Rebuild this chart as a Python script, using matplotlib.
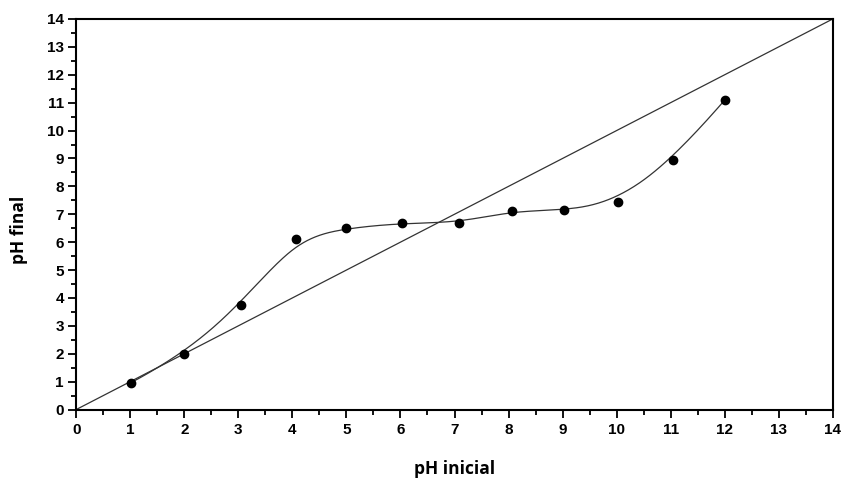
import numpy as np
import matplotlib
matplotlib.use("Agg")
import matplotlib.pyplot as plt
from matplotlib.ticker import MultipleLocator

# Data
ph_inicial = [1.01, 2.0, 3.04, 4.06, 4.99, 6.02, 7.09, 8.07, 9.02, 10.03, 11.04, 12.0]
ph_final = [0.96, 1.98, 3.75, 6.11, 6.50, 6.68, 6.70, 7.12, 7.14, 7.43, 8.95, 11.09]
ref_x = [0, 14]
ref_y = [0, 14]

xticks = list(range(0, 15))
yticks = list(range(0, 15))


def clamped_bspline(px, py, k=3, samples=600):
    P = np.column_stack([px, py])
    n = len(P)
    knots = np.concatenate([np.zeros(k), np.arange(n - k + 1), np.full(k, n - k)]).astype(float)
    t = np.linspace(0, n - k, samples)
    t[-1] -= 1e-9
    B = np.zeros((samples, len(knots) - 1))
    for i in range(len(knots) - 1):
        B[:, i] = (t >= knots[i]) & (t < knots[i + 1])
    for d in range(1, k + 1):
        Bn = np.zeros((samples, len(knots) - 1 - d))
        for i in range(len(knots) - 1 - d):
            den1 = knots[i + d] - knots[i]
            den2 = knots[i + d + 1] - knots[i + 1]
            a = (t - knots[i]) / den1 * B[:, i] if den1 > 0 else 0
            b = (knots[i + d + 1] - t) / den2 * B[:, i + 1] if den2 > 0 else 0
            Bn[:, i] = a + b
        B = Bn
    C = B @ P
    return C[:, 0], C[:, 1]


W, H = 842, 482
fig = plt.figure(figsize=(W / 100, H / 100), dpi=100)
ax = fig.add_axes([76.3 / W, 1 - 409.5 / H, (832.7 - 76.3) / W, (409.5 - 19) / H])

ax.plot(ref_x, ref_y, color="#333333", lw=0.9, zorder=2)
cx, cy = clamped_bspline(ph_inicial, ph_final)
ax.plot(cx, cy, color="#333333", lw=0.9, zorder=2)
ax.plot(ph_inicial, ph_final, "o", color="black", ms=6, zorder=3)

ax.set_xlim(0, 14)
ax.set_ylim(0, 14)
ax.set_xticks(xticks)
ax.set_yticks(yticks)
ax.xaxis.set_minor_locator(MultipleLocator(0.5))
ax.yaxis.set_minor_locator(MultipleLocator(0.5))
ax.tick_params(which="both", direction="out", top=False, right=False, width=1.3)
ax.tick_params(which="major", length=6)
ax.tick_params(which="minor", length=3.5)
ax.tick_params(axis="x", which="major", pad=4)
ax.tick_params(axis="y", which="major", pad=3)
for sp in ax.spines.values():
    sp.set_linewidth(1.5)
for lab in ax.get_xticklabels() + ax.get_yticklabels():
    lab.set_fontfamily("Liberation Sans")
    lab.set_fontweight("bold")
    lab.set_fontsize(11)

fig.text(454.5 / W, 1 - 469 / H, "pH inicial", ha="center", va="center",
         fontfamily="Open Sans", fontweight="bold", fontsize=12.5)
fig.text(19.5 / W, 1 - 230 / H, "pH final", ha="center", va="center", rotation=90,
         fontfamily="Open Sans", fontweight="bold", fontsize=12.5)

fig.savefig("out.png", dpi=100)
